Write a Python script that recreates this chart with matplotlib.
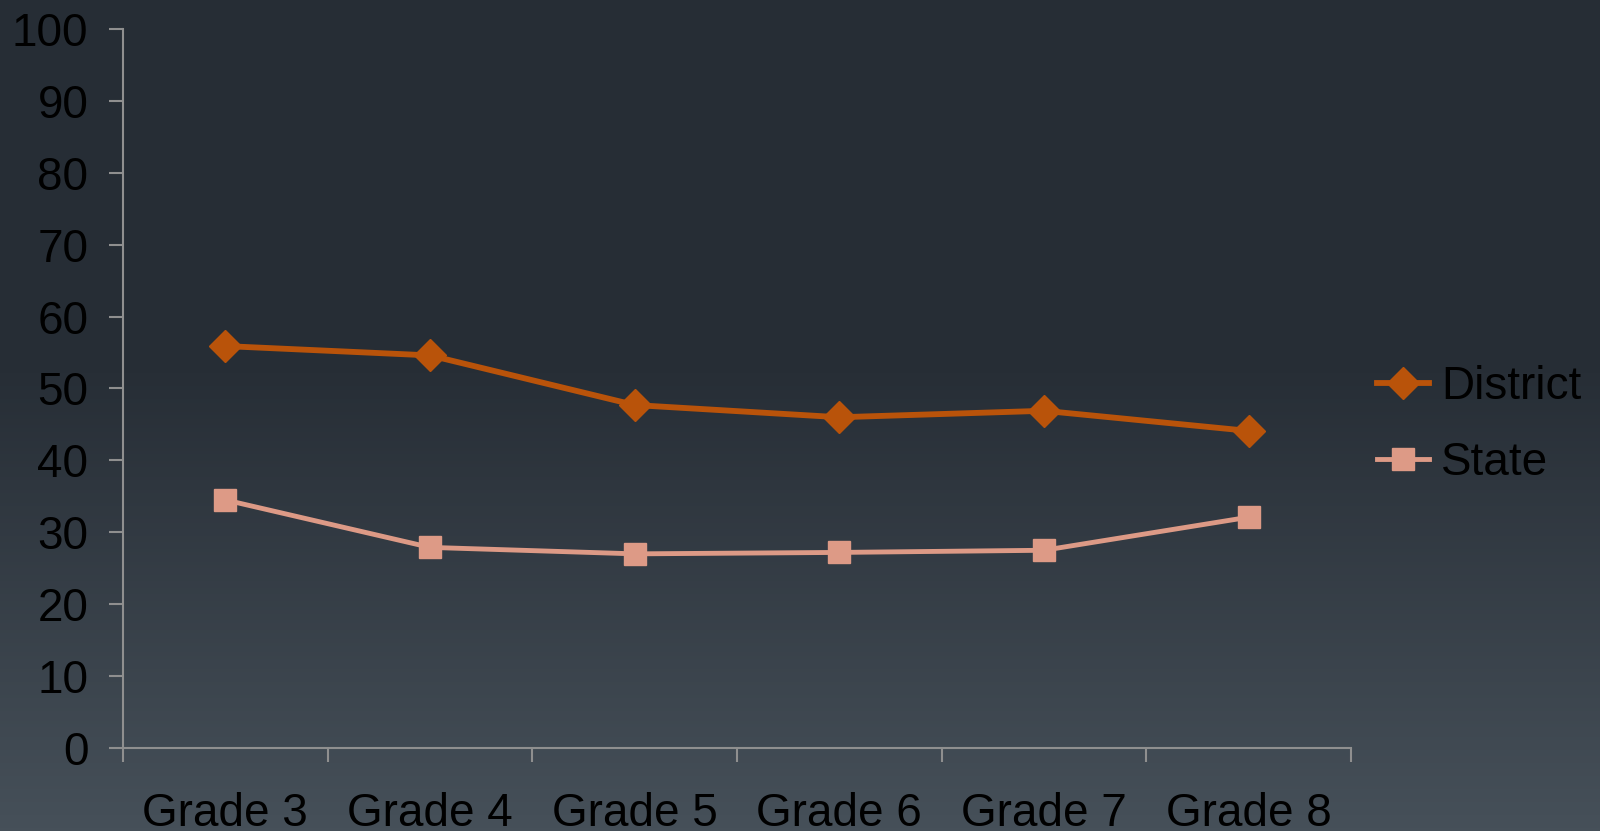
import matplotlib.pyplot as plt
import numpy as np
from matplotlib.colors import LinearSegmentedColormap

grades = ['Grade 3', 'Grade 4', 'Grade 5', 'Grade 6', 'Grade 7', 'Grade 8']
district = [55.9, 54.6, 47.7, 46.0, 46.9, 44.1]
state = [34.5, 27.9, 27.0, 27.2, 27.5, 32.1]
y_ticks = [0, 10, 20, 30, 40, 50, 60, 70, 80, 90, 100]

plt.rcParams['font.family'] = ['Liberation Sans', 'DejaVu Sans']

fig = plt.figure(figsize=(16, 8.31), dpi=100)

# background gradient: dark at top, lighter towards the bottom
bg = fig.add_axes([0, 0, 1, 1], zorder=-10)
bg_cmap = LinearSegmentedColormap.from_list(
    'bg', [(0.0, '#262d35'), (0.45, '#272e36'), (1.0, '#465059')])
grad = np.linspace(0, 1, 256).reshape(-1, 1)
bg.imshow(grad, aspect='auto', cmap=bg_cmap, extent=[0, 1, 0, 1], origin='upper')
bg.axis('off')

ax = fig.add_axes([0.0769, 0.0999, 0.7675, 0.8652])
ax.set_facecolor('none')

x = np.arange(len(grades))
ax.plot(x, district, color='#b9530a', lw=4.2, marker='D', ms=16.5,
        mec='#b9530a', label='District')
ax.plot(x, state, color='#dd9a86', lw=3.5, marker='s', ms=15.5,
        mec='#dd9a86', label='State')

ax.set_xlim(-0.5, len(grades) - 0.5)
ax.set_ylim(0, 100)
ax.set_yticks(y_ticks)
ax.set_xticks(x)
ax.set_xticklabels(grades)
ax.set_xticks(np.arange(len(grades) + 1) - 0.5, minor=True)

for side in ['top', 'right']:
    ax.spines[side].set_visible(False)
for side in ['left', 'bottom']:
    ax.spines[side].set_color('#8f8f8f')
    ax.spines[side].set_linewidth(1.5)

ax.tick_params(axis='y', length=10, width=1.5, color='#8f8f8f',
               labelsize=33, labelcolor='black', pad=15)
ax.tick_params(axis='x', which='major', length=0, labelsize=33,
               labelcolor='black', pad=32)
ax.tick_params(axis='x', which='minor', length=10, width=1.5, color='#8f8f8f')

fig.legend(loc='center left', bbox_to_anchor=(1377 / 1600, 0.4885),
           bbox_transform=fig.transFigure, frameon=False, fontsize=33,
           borderpad=0, borderaxespad=0, handlelength=1.13,
           handletextpad=0.27, labelspacing=0.7)

fig.savefig('out.png', dpi=100)
